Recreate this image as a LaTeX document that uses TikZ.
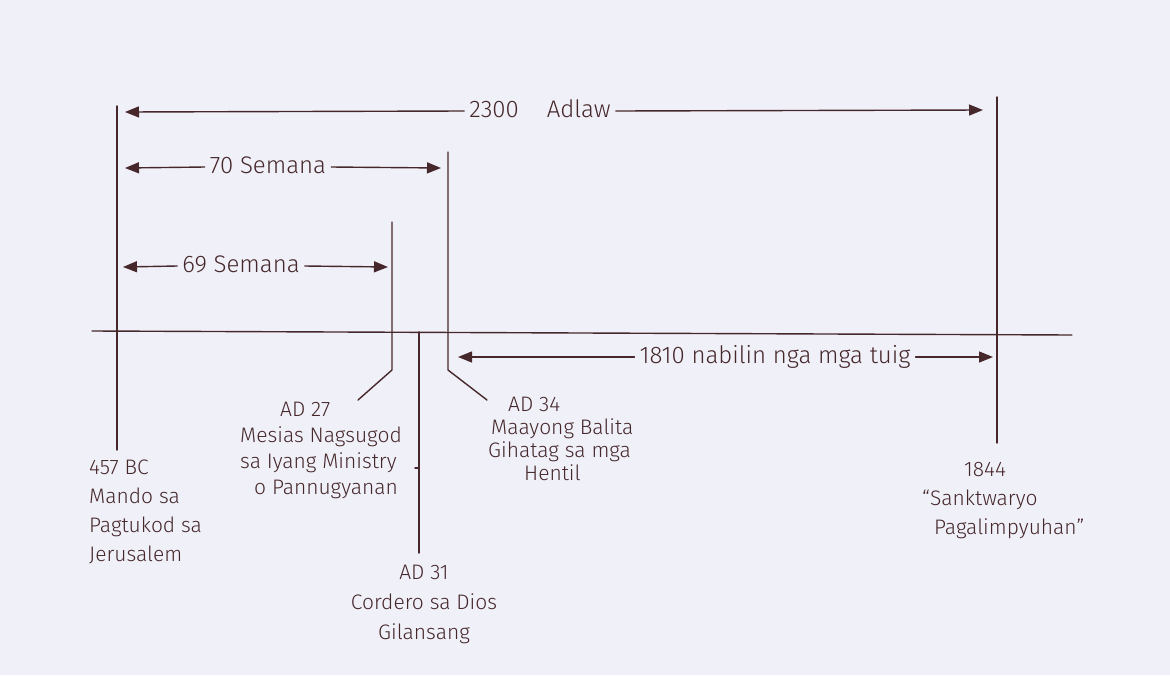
\documentclass[tikz,border=0pt]{standalone}
\usepackage{fontspec}
\setmainfont{Fira Sans}[UprightFont=* Light]
\usetikzlibrary{arrows.meta}
\definecolor{paper}{RGB}{240,241,248}
\definecolor{inkc}{RGB}{70,40,44}
\begin{document}
\begin{tikzpicture}[x=1pt,y=-1pt,
  ink/.style={draw=inkc, line width=1.4pt, line cap=round, line join=round},
  arr/.style={ink, -{Triangle[length=14pt,width=11pt]}},
  lbl/.style={text=inkc, inner sep=0pt},
  span/.style={text=inkc, inner xsep=5pt, inner ysep=0pt, text height=17pt, text depth=5pt, font=\fontsize{24}{28}\selectfont}]
\fill[paper] (0,0) rectangle (1170,675);
\useasboundingbox (0,0) rectangle (1170,675);

% timeline
\coordinate (tlL) at (92,331);
\coordinate (tlR) at (1072,335);
\draw[ink] (tlL) -- (tlR);

% vertical markers
\coordinate (aTop) at (117,106);  \coordinate (aBot) at (117,450);
\coordinate (bTop) at (392,222);  \coordinate (bKnee) at (392,370); \coordinate (bEnd) at (358,400);
\coordinate (cTop) at (419,332);  \coordinate (cBot) at (419,553);
\coordinate (cTick) at (415,468); \coordinate (cTickR) at (419,468);
\coordinate (dTop) at (448,152);  \coordinate (dKnee) at (448,370); \coordinate (dEnd) at (487,400);
\coordinate (eTop) at (997,97);   \coordinate (eBot) at (997,443);
\draw[ink] (aTop) -- (aBot);
\draw[ink] (bTop) -- (bKnee) -- (bEnd);
\draw[ink] (cTop) -- (cBot);
\draw[ink] (cTick) -- (cTickR);
\draw[ink] (dTop) -- (dKnee) -- (dEnd);
\draw[ink] (eTop) -- (eBot);

% span arrows
\coordinate (s1L) at (125,112); \coordinate (s1R) at (983,110);
\node[span] (s1) at (540,111) {2300\hspace{28pt}Adlaw};
\draw[arr] (s1.west) -- (s1L);
\draw[arr] (s1.east) -- (s1R);

\coordinate (s2L) at (125,168); \coordinate (s2R) at (441,168);
\node[span] (s2) at (268,167) {70 Semana};
\draw[arr] (s2.west) -- (s2L);
\draw[arr] (s2.east) -- (s2R);

\coordinate (s3L) at (123,267); \coordinate (s3R) at (388,267);
\node[span] (s3) at (241,266) {69 Semana};
\draw[arr] (s3.west) -- (s3L);
\draw[arr] (s3.east) -- (s3R);

\coordinate (s4L) at (458,357); \coordinate (s4R) at (993,357);
\node[span] (s4) at (775,357) {1810 nabilin nga mga tuig};
\draw[arr] (s4.west) -- (s4L);
\draw[arr] (s4.east) -- (s4R);

% event labels
\node[lbl, anchor=north west, align=left, font=\fontsize{21}{29}\selectfont] (e457) at (89,460)
  {457 BC\\Mando sa\\Pagtukod sa\\Jerusalem};
\node[lbl, anchor=north west, align=left, font=\fontsize{21}{26}\selectfont] (e27) at (240,402)
  {\hspace{40pt}AD 27\\Mesias Nagsugod\\sa Iyang Ministry\\\hspace{14pt}o Pannugyanan};
\node[lbl, anchor=north, align=center, font=\fontsize{21}{30}\selectfont] (e31) at (424,565)
  {AD 31\\Cordero sa Dios\\Gilansang};
\node[lbl, anchor=north west, align=left, font=\fontsize{21}{23}\selectfont] (e34) at (488,397)
  {\hspace{20pt}AD 34\\\hspace{3pt}Maayong Balita\\Gihatag sa mga\\\hspace{36pt}Hentil};
\node[lbl, anchor=north west, align=left, font=\fontsize{21}{29}\selectfont] (e1844) at (922,462)
  {\hspace{42pt}1844\\“Sanktwaryo\\\hspace{12pt}Pagalimpyuhan”};
\end{tikzpicture}
\end{document}
